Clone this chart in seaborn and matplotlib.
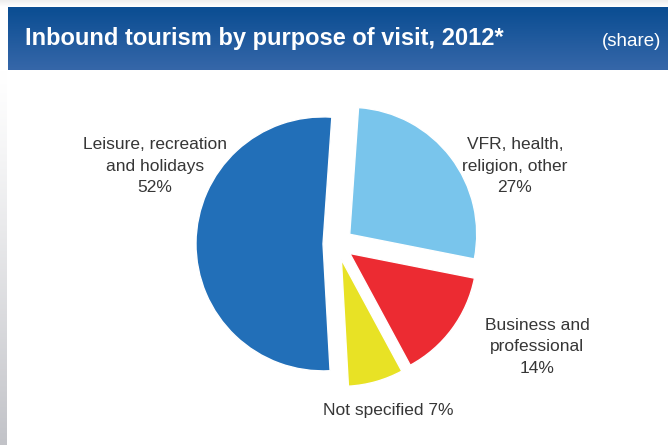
import numpy as np
import matplotlib
matplotlib.use("Agg")
import matplotlib.pyplot as plt
import seaborn as sns

# data
categories = ["VFR, health,\nreligion, other", "Business and\nprofessional",
              "Not specified", "Leisure, recreation\nand holidays"]
shares = [27, 14, 7, 52]
colors = ["#79c5ec", "#ec2b32", "#e8e225", "#226fb8"]
title = "Inbound tourism by purpose of visit, 2012*"
unit = "(share)"

W, H = 668, 445

sns.set_theme(style="white")
plt.rcParams["font.family"] = ["Liberation Sans", "DejaVu Sans"]

fig = plt.figure(figsize=(W / 100, H / 100), dpi=100)
ax = fig.add_axes([0, 0, 1, 1])
ax.set_xlim(0, W)
ax.set_ylim(0, H)
ax.axis("off")

# header band with vertical gradient (first row is the top)
grad = np.linspace(0, 1, 64).reshape(-1, 1)
top = np.array([0x0a, 0x4d, 0x92]) / 255
bot = np.array([0x36, 0x67, 0xa9]) / 255
img = top + (bot - top) * grad[..., None]
ax.imshow(img, extent=[8, W, H - 70, H - 7], aspect="auto", zorder=1)

# faint shading above the header
shade = np.linspace(0.93, 1.0, 16).reshape(-1, 1)
ax.imshow(np.repeat(shade[..., None], 3, axis=2), extent=[0, W, H - 7, H],
          aspect="auto", zorder=0, vmin=0, vmax=1)

# grey shadow strip on the left, darker towards the bottom
strip = np.linspace(0, 1, 128).reshape(-1, 1)
c0 = np.array([1.0, 1.0, 1.0])
c1 = np.array([0xc2, 0xc3, 0xc8]) / 255
simg = c0 + (c1 - c0) * (strip[..., None] ** 1.2)
ax.imshow(simg, extent=[0, 7, 0, H - 70], aspect="auto", zorder=1)

ax.text(25, H - 39, title, color="white", fontsize=17,
        fontweight="bold", va="center", ha="left", zorder=3)
ax.text(661, H - 41, unit, color="white", fontsize=13.5,
        va="center", ha="right", zorder=3)

# pie
cx, cy, R = 337, H - 244, 127
wedges, _ = ax.pie(shares, colors=colors, startangle=86, counterclock=False,
                   explode=[16, 16, 16, 14], radius=R, center=(cx, cy),
                   wedgeprops=dict(edgecolor="white", linewidth=1), frame=True)
for w in wedges:
    w.set_zorder(2)
ax.set_xlim(0, W)
ax.set_ylim(0, H)
ax.set_aspect("auto")
ax.axis("off")

lab_kw = dict(color="#363636", fontsize=12.5, ha="center", va="center",
              linespacing=1.55, zorder=3)
ax.text(155, H - 166, categories[3] + "\n" + f"{shares[3]}%", **lab_kw)
ax.text(515, H - 166, categories[0] + "\n" + f"{shares[0]}%", **lab_kw)
ax.text(537, H - 347, categories[1] + "\n" + f"{shares[1]}%", **lab_kw)
ax.text(388, H - 410, f"{categories[2]} {shares[2]}%", **lab_kw)

fig.savefig("out.png", dpi=100, facecolor="white")
